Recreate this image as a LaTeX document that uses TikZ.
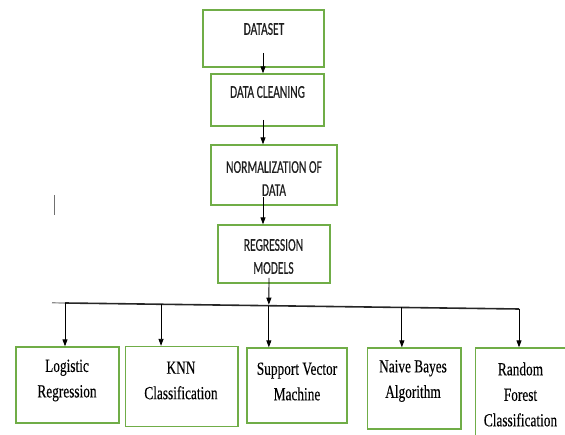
\documentclass[tikz,border=0pt]{standalone}
\usepackage{fontspec}
\usepackage{tikz}
\usepackage{xcolor}
\usetikzlibrary{arrows.meta, positioning, calc}
\newfontfamily\capsfont[FakeStretch=0.64, FakeBold=0.35]{Carlito}
\newfontfamily\romfont[FakeStretch=0.72, FakeBold=0.25]{Liberation Serif}
\definecolor{verde}{HTML}{70AD47}
\definecolor{tinta}{HTML}{1E1E1E}
\definecolor{gris}{HTML}{8C8C8C}

\begin{document}
\begin{tikzpicture}[
  x=1pt, y=-1pt,
  caja/.style={rectangle, draw=verde, line width=1.3pt, inner sep=0pt},
  etapa/.style={font=\capsfont\fontsize{18}{23}\selectfont, text=tinta, align=center, inner sep=0pt},
  modelo/.style={font=\romfont\fontsize{18.5}{25.5}\selectfont, text=black, align=center, inner sep=0pt},
  arr/.style={-{Triangle[length=7pt, width=5pt]}, line width=0.9pt, black},
  bus/.style={line width=1.6pt, black!85},
]
\useasboundingbox (0,0) rectangle (565,435);
\clip (0,0) rectangle (565,435);

% --- Etapas ---
\node[caja, minimum width=121pt, minimum height=57pt] (dataset)  at (263.5,38.5) {};
\node[caja, minimum width=113pt, minimum height=52pt] (cleaning) at (267.5,100)  {};
\node[caja, minimum width=126pt, minimum height=60pt] (norm)     at (274,175)    {};
\node[caja, minimum width=112pt, minimum height=58pt] (regr)     at (274,254)    {};

\node[etapa] (datasettxt)  at (264,29)     {DATASET};
\node[etapa] (cleaningtxt) at (267.5,92)   {DATA CLEANING};
\node[etapa] (normtxt)     at (274,178.5)  {NORMALIZATION OF\\DATA};
\node[etapa] (regrtxt)     at (273.5,256.5){REGRESSION\\MODELS};

% --- Modelos ---
\node[caja, minimum width=103pt,   minimum height=76pt] (logistic) at (67.5,385)    {};
\node[caja, minimum width=112.5pt, minimum height=80pt] (knn)      at (181.75,386.5) {};
\node[caja, minimum width=100pt,   minimum height=75pt] (svm)      at (297,385.5)   {};
\node[caja, minimum width=93.5pt,  minimum height=81pt] (naive)    at (414.25,388.5) {};
\node[caja, minimum width=100pt,   minimum height=98pt] (forest)   at (525.5,397)   {};

\node[modelo] (logistictxt) at (67,380.5)   {Logistic\\Regression};
\node[modelo] (knntxt)      at (181,380.5)  {KNN\\Classification};
\node[modelo] (svmtxt)      at (297,381.5)  {Support Vector\\Machine};
\node[modelo] (naivetxt)    at (413,381)    {Naive Bayes\\Algorithm};
\node[modelo] (foresttxt)   at (520.5,394.5){Random\\Forest\\Classification};

% --- Flujo principal ---
\coordinate (s1) at (263,53);
\coordinate (s2) at (263,120);
\coordinate (s3) at (263,197);
\coordinate (s4) at (269,278);
\draw[arr] (s1) -- (s1 |- cleaning.north);
\draw[arr] (s2) -- (s2 |- norm.north);
\draw[arr] (s3) -- (s3 |- regr.north);

% --- Reparto a los modelos ---
\coordinate (busL) at (65,303);
\coordinate (busR) at (519,309);
\coordinate (b2) at ($(busL)!0.2115!(busR)$);
\coordinate (b3) at ($(busL)!0.449!(busR)$);
\coordinate (b4) at ($(busL)!0.742!(busR)$);
\draw[gris, line width=1.2pt] (52,302.8) -- (busL);
\draw[bus] (busL) -- (busR);
\draw[arr] (s4) -- ([yshift=1pt]b3);
\draw[arr] (busL) -- (busL |- logistic.north);
\draw[arr] (b2) -- (b2 |- knn.north);
\draw[arr] (b3) -- (b3 |- svm.north);
\draw[arr] (b4) -- (b4 |- naive.north);
\draw[arr] (busR) -- (busR |- forest.north);

% --- marca suelta ---
\draw[gris!80!black, line width=1pt] (54.3,195) -- (54.3,215);

\end{tikzpicture}
\end{document}
